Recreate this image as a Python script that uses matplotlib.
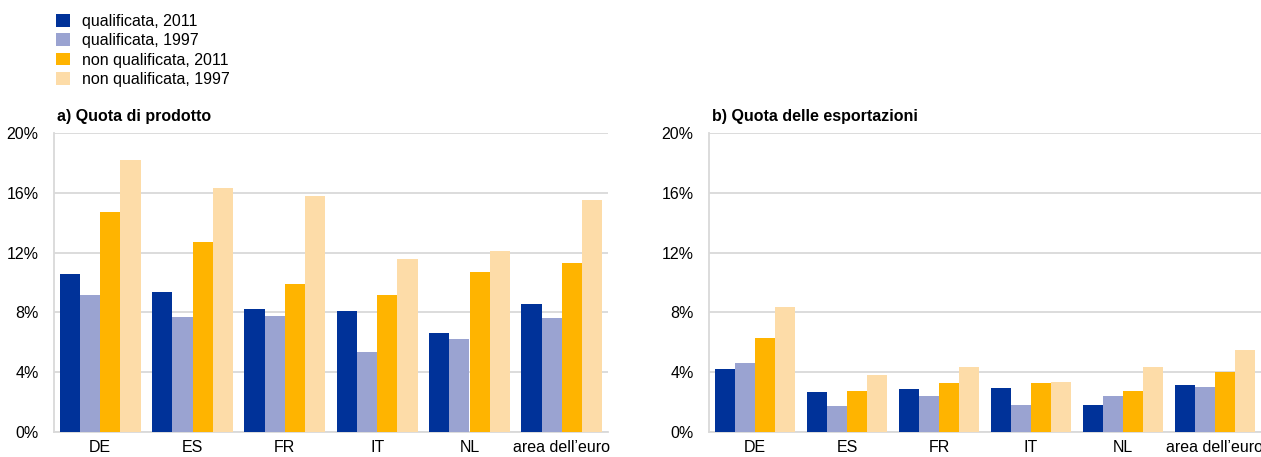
import numpy as np
import matplotlib
matplotlib.use("Agg")
import matplotlib.pyplot as plt
from matplotlib.patches import Patch

plt.rcParams['font.family'] = ['Liberation Sans', 'DejaVu Sans']

# data (percent)
categories = ['DE', 'ES', 'FR', 'IT', 'NL', 'area dell\u2019euro']
series_labels = ['qualificata, 2011', 'qualificata, 1997',
                 'non qualificata, 2011', 'non qualificata, 1997']

prod_q_2011 = [10.55, 9.38, 8.22, 8.11, 6.59, 8.55]
prod_q_1997 = [9.18, 7.66, 7.75, 5.37, 6.21, 7.62]
prod_nq_2011 = [14.72, 12.69, 9.93, 9.18, 10.69, 11.29]
prod_nq_1997 = [18.17, 16.35, 15.77, 11.58, 12.09, 15.50]

exp_q_2011 = [4.24, 2.68, 2.90, 2.94, 1.78, 3.14]
exp_q_1997 = [4.64, 1.76, 2.41, 1.81, 2.41, 3.03]
exp_nq_2011 = [6.31, 2.76, 3.28, 3.28, 2.72, 3.99]
exp_nq_1997 = [8.36, 3.83, 4.35, 3.34, 4.37, 5.51]

yticks = [0, 4, 8, 12, 16, 20]
colors = ['#003299', '#9AA3D1', '#FFB400', '#FDDCA8']
grid_col = '#D9D9D9'
fs = 11.5

fig = plt.figure(figsize=(12.61, 4.57), dpi=100)
ax_a = fig.add_axes([54 / 1261, 1 - 432 / 457, 554 / 1261, 299 / 457])
ax_b = fig.add_axes([709 / 1261, 1 - 432 / 457, 552 / 1261, 299 / 457])

panels = [
    (ax_a, 'a) Quota di prodotto', [prod_q_2011, prod_q_1997, prod_nq_2011, prod_nq_1997]),
    (ax_b, 'b) Quota delle esportazioni', [exp_q_2011, exp_q_1997, exp_nq_2011, exp_nq_1997]),
]

x = np.arange(len(categories))
bw = 0.22
for ax, title, series in panels:
    for i, vals in enumerate(series):
        ax.bar(x + (i - 1.5) * bw, vals, width=bw, color=colors[i], zorder=3)
    ax.set_xlim(-0.5, len(categories) - 0.5)
    ax.set_ylim(0, 20)
    ax.set_yticks(yticks)
    ax.set_yticklabels(['%d%%' % t for t in yticks], fontsize=fs)
    ax.set_xticks(x)
    ax.set_xticklabels(categories, fontsize=fs)
    ax.tick_params(axis='both', length=0, colors='#000000')
    ax.tick_params(axis='y', pad=11)
    ax.tick_params(axis='x', pad=6)
    ax.grid(axis='y', color=grid_col, linewidth=1.3, zorder=0)
    for s in ['top', 'right']:
        ax.spines[s].set_visible(False)
    for s in ['left', 'bottom']:
        ax.spines[s].set_color(grid_col)
        ax.spines[s].set_linewidth(1.3)
    ax.text(0.006, 1 + 17 / 299, title, transform=ax.transAxes, fontsize=fs,
            fontweight='bold', ha='left', va='center')

handles = [Patch(facecolor=c, edgecolor='none') for c in colors]
fig.legend(handles, series_labels, loc='upper left',
           bbox_to_anchor=(56 / 1261, 1 - 14 / 457), frameon=False,
           fontsize=fs, handlelength=0.85, handleheight=0.85,
           handletextpad=0.8, labelspacing=0.27, borderpad=0, borderaxespad=0)

fig.savefig('out.png', dpi=100)
